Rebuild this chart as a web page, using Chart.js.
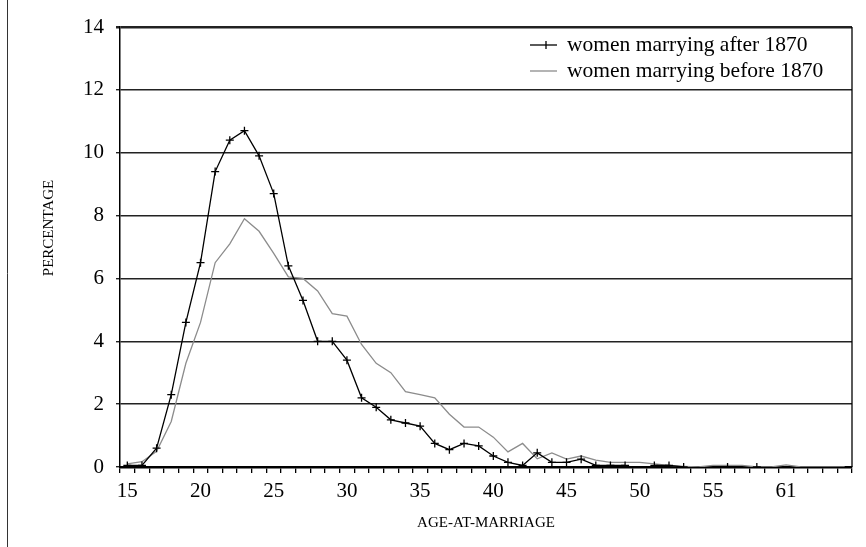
<!DOCTYPE html>
<html>
<head>
<meta charset="utf-8">
<script src="https://cdn.jsdelivr.net/npm/chart.js@4.4.1/dist/chart.umd.min.js"></script>
<style>
    html, body { margin: 0; padding: 0; background: #fff; }
    #wrap { width: 866px; height: 547px; }
</style>
</head>
<body>
<div id="wrap"><canvas id="ageChart" width="866" height="547"></canvas></div>
<script>
// categories (the table has no row for age 60)
const ages = [
    '15', '16', '17', '18', '19', '20', '21', '22', '23', '24',
    '25', '26', '27', '28', '29', '30', '31', '32', '33', '34',
    '35', '36', '37', '38', '39', '40', '41', '42', '43', '44',
    '45', '46', '47', '48', '49', '50', '51', '52', '53', '54',
    '55', '56', '57', '58', '59', '61', '62', '63', '64', '65'
];

// percentages
const after1870 = [
    0.05, 0.05, 0.6, 2.3, 4.6, 6.5, 9.4, 10.4, 10.7, 9.9,
    8.7, 6.4, 5.3, 4.0, 4.0, 3.4, 2.2, 1.9, 1.5, 1.4,
    1.3, 0.75, 0.55, 0.75, 0.67, 0.35, 0.15, 0.05, 0.45, 0.15,
    0.15, 0.25, 0.05, 0.05, 0.05, null, 0.05, 0.05, 0, null,
    null, 0, null, 0, null, null, null, null, null, null
];

const before1870 = [
    0.1, 0.17, 0.5, 1.45, 3.3, 4.6, 6.5, 7.1, 7.9, 7.5,
    6.8, 6.05, 6.0, 5.6, 4.88, 4.8, 3.9, 3.3, 3.0, 2.4,
    2.3, 2.2, 1.68, 1.27, 1.27, 0.95, 0.48, 0.75, 0.26, 0.45,
    0.25, 0.35, 0.22, 0.15, 0.15, 0.15, 0.1, 0.05, 0.02, 0,
    0.05, 0.05, 0.05, 0, 0, 0.07, 0, 0, 0, 0
];

const labelEvery = 5;
const serif = '"Liberation Serif", "Times New Roman", serif';

// legend, axis titles and frame lines drawn by hand
const extras = {
    id: 'extras',
    afterDraw(chart) {
        const ctx = chart.ctx;
        const a = chart.chartArea;
        ctx.save();

        ctx.strokeStyle = '#333';
        ctx.lineWidth = 1;
        ctx.beginPath();
        ctx.moveTo(7.5, 0);
        ctx.lineTo(7.5, 547);
        ctx.stroke();

        ctx.strokeStyle = '#000';
        ctx.lineWidth = 1.3;
        ctx.beginPath();
        ctx.moveTo(a.right, a.top);
        ctx.lineTo(a.right, a.bottom);
        ctx.stroke();

        ctx.fillStyle = '#000';
        ctx.font = '15px ' + serif;
        ctx.textAlign = 'center';
        ctx.textBaseline = 'middle';
        ctx.fillText('AGE-AT-MARRIAGE', (a.left + a.right) / 2, 523);
        ctx.save();
        ctx.translate(49, 228);
        ctx.rotate(-Math.PI / 2);
        ctx.fillText('PERCENTAGE', 0, 0);
        ctx.restore();

        // legend
        const rows = [45, 71];
        ctx.font = '21.5px ' + serif;
        ctx.textAlign = 'left';
        chart.data.datasets.forEach((ds, i) => {
            const y = rows[i];
            ctx.strokeStyle = ds.borderColor;
            ctx.lineWidth = ds.borderWidth;
            ctx.beginPath();
            ctx.moveTo(530, y);
            ctx.lineTo(557, y);
            ctx.stroke();
            if (ds.pointRadius > 0) {
                ctx.beginPath();
                ctx.moveTo(546, y - 4);
                ctx.lineTo(546, y + 4);
                ctx.stroke();
            }
            ctx.fillStyle = '#000';
            ctx.fillText(ds.label, 567, y);
        });
        ctx.restore();
    }
};

new Chart(document.getElementById('ageChart'), {
    type: 'line',
    data: {
        labels: ages,
        datasets: [{
            label: 'women marrying after 1870',
            data: after1870,
            borderColor: '#000',
            borderWidth: 1.3,
            pointStyle: 'cross',
            pointRadius: 4,
            pointBorderColor: '#000',
            pointBorderWidth: 1.3,
            tension: 0,
            spanGaps: false
        }, {
            label: 'women marrying before 1870',
            data: before1870,
            borderColor: '#8c8c8c',
            borderWidth: 1.3,
            pointRadius: 0,
            tension: 0
        }]
    },
    options: {
        responsive: false,
        animation: false,
        layout: {
            padding: { top: 27, right: 14, bottom: 0, left: 0 }
        },
        plugins: {
            legend: { display: false },
            tooltip: { enabled: false }
        },
        scales: {
            x: {
                offset: true,
                afterFit: scale => { scale.height = 80; },
                grid: {
                    offset: true,
                    drawOnChartArea: false,
                    tickLength: 6,
                    color: '#000',
                    lineWidth: 1.3
                },
                border: { color: '#000', width: 2.5 },
                ticks: {
                    autoSkip: false,
                    maxRotation: 0,
                    padding: 6,
                    color: '#000',
                    font: { family: serif, size: 21 },
                    callback: function(value, index) {
                        return index % labelEvery === 0 ? this.getLabelForValue(value) : '';
                    }
                }
            },
            y: {
                min: 0,
                max: 14,
                afterFit: scale => { scale.width = 120; },
                grid: {
                    color: '#222',
                    lineWidth: ctx => ctx.tick && ctx.tick.value === 14 ? 2.5 : 1.4,
                    tickLength: 4
                },
                border: { color: '#000', width: 1.5 },
                ticks: {
                    stepSize: 2,
                    padding: 12,
                    color: '#000',
                    font: { family: serif, size: 21 }
                }
            }
        }
    },
    plugins: [extras]
});
</script>
</body>
</html>
